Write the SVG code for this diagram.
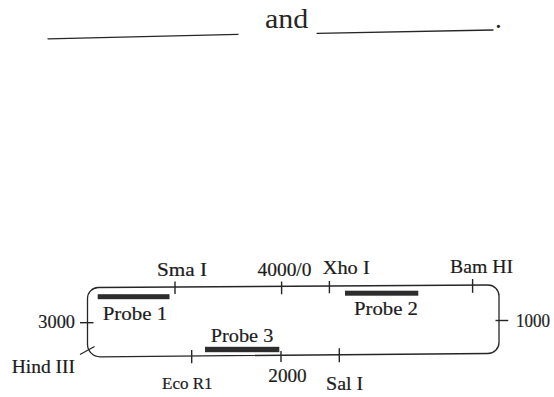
<svg xmlns="http://www.w3.org/2000/svg" width="554" height="397" viewBox="0 0 554 397">
  <style>
    .lbl { font-family: "Liberation Serif", "DejaVu Serif", "Times New Roman", serif; font-size: 18px; fill: #1c1c1c; stroke: #1c1c1c; stroke-width: 0.2; }
    .probe-lbl { font-size: 19px; }
    .big { font-size: 27px; fill: #262626; stroke: none; }
    .ln { fill: none; stroke: #262626; stroke-width: 1.3; stroke-linecap: round; }
    .tick { fill: none; stroke: #262626; stroke-width: 1.4; }
    .bar { fill: #2d2d2d; }
  </style>
  <rect width="554" height="397" fill="#ffffff"/>

  <!-- fill-in blanks at the top -->
  <g id="blanks">
    <path class="ln" d="M48,38.8 L238,34.3"/>
    <text class="lbl big" x="265" y="28.3" textLength="43.3" lengthAdjust="spacingAndGlyphs">and</text>
    <path class="ln" d="M317,33.3 L493,30"/>
    <text class="lbl big" x="495" y="28">.</text>
  </g>

  <!-- circular plasmid drawn as a rounded loop -->
  <g id="plasmid">
    <path class="ln" d="M98,287.5 L488,285 A11,11 0 0 1 499,296 L499,342.5 A11,11 0 0 1 488,353.5 L100,356.8 A12.5,12.5 0 0 1 87.5,344.3 L87.5,298.5 A11,11 0 0 1 98,287.5 Z"/>
  </g>

  <!-- restriction sites and coordinate ticks -->
  <g id="sites">
    <g id="site-smaI">
      <line class="tick" x1="175" y1="281.5" x2="175" y2="294"/>
      <text class="lbl" x="157" y="276" textLength="50" lengthAdjust="spacingAndGlyphs">Sma I</text>
    </g>
    <g id="pos-4000">
      <line class="tick" x1="281.6" y1="281.5" x2="281.6" y2="294.3"/>
      <text class="lbl" x="257.5" y="276" textLength="54" lengthAdjust="spacingAndGlyphs">4000/0</text>
    </g>
    <g id="site-xhoI">
      <line class="tick" x1="329.4" y1="281" x2="329.4" y2="293.3"/>
      <text class="lbl" x="322.7" y="273.5" textLength="47" lengthAdjust="spacingAndGlyphs">Xho I</text>
    </g>
    <g id="site-bamHI">
      <line class="tick" x1="472.6" y1="279" x2="472.6" y2="292.8"/>
      <text class="lbl" x="450" y="273" textLength="63" lengthAdjust="spacingAndGlyphs">Bam HI</text>
    </g>
    <g id="pos-1000">
      <line class="tick" x1="495.5" y1="320.5" x2="508.3" y2="320.5"/>
      <text class="lbl" x="516" y="326.5" textLength="34" lengthAdjust="spacingAndGlyphs">1000</text>
    </g>
    <g id="pos-3000">
      <line class="tick" x1="80" y1="322.7" x2="93.5" y2="322.7"/>
      <text class="lbl" x="38.3" y="328" textLength="36.7" lengthAdjust="spacingAndGlyphs">3000</text>
    </g>
    <g id="site-hindIII">
      <line class="tick" x1="80" y1="354.5" x2="94.5" y2="346.5"/>
      <text class="lbl" x="11.7" y="373" textLength="63.3" lengthAdjust="spacingAndGlyphs">Hind III</text>
    </g>
    <g id="site-ecoR1">
      <line class="tick" x1="191.7" y1="350" x2="191.7" y2="363.3"/>
      <text class="lbl" x="162" y="389" style="font-size:17px">Eco R1</text>
    </g>
    <g id="pos-2000">
      <line class="tick" x1="281" y1="351" x2="281" y2="362"/>
      <text class="lbl" x="268.3" y="381.5" textLength="38.4" lengthAdjust="spacingAndGlyphs">2000</text>
    </g>
    <g id="site-salI">
      <line class="tick" x1="339.3" y1="348.3" x2="339.3" y2="362.3"/>
      <text class="lbl" x="326" y="390" textLength="37.3" lengthAdjust="spacingAndGlyphs">Sal I</text>
    </g>
  </g>

  <!-- probe binding regions -->
  <g id="probes">
    <g id="probe-1">
      <rect class="bar" x="97.7" y="294.2" width="71.8" height="5"/>
      <text class="lbl probe-lbl" x="102.7" y="319.5" textLength="64.6" lengthAdjust="spacingAndGlyphs">Probe 1</text>
    </g>
    <g id="probe-2">
      <rect class="bar" x="345" y="290.7" width="73.3" height="5"/>
      <text class="lbl probe-lbl" x="354" y="315" textLength="64" lengthAdjust="spacingAndGlyphs">Probe 2</text>
    </g>
    <g id="probe-3">
      <rect class="bar" x="205" y="346.8" width="74.3" height="5.4"/>
      <text class="lbl probe-lbl" x="210.7" y="341.7" textLength="62.6" lengthAdjust="spacingAndGlyphs">Probe 3</text>
    </g>
  </g>
</svg>
